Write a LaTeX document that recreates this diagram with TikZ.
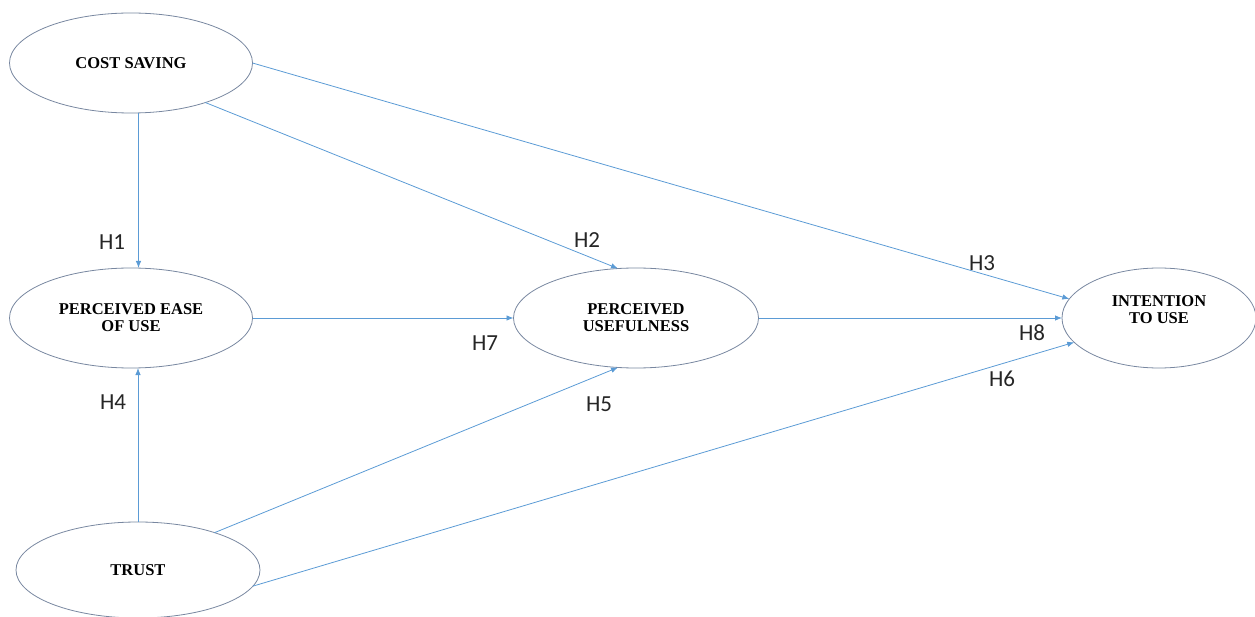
\documentclass[tikz,border=0pt]{standalone}
\usepackage{fontspec}
\setmainfont{Liberation Serif}
\newfontfamily\hypofont{Carlito}
\usetikzlibrary{shapes.geometric,arrows.meta}
\definecolor{pfeilblau}{RGB}{91,155,213}
\definecolor{randgrau}{RGB}{120,135,160}
\tikzset{
    konstrukt/.style={ellipse, draw=randgrau, line width=0.8pt, minimum width=243pt,
        minimum height=100pt, inner sep=0pt, outer sep=0pt, align=center,
        font=\fontsize{16.5}{17}\selectfont\bfseries},
    pfeil/.style={draw=pfeilblau, line width=0.8pt, -{Latex[length=7pt,width=5.5pt]}},
    hypo/.style={font=\hypofont\fontsize{23}{23}\selectfont, text=black!85}
}
\begin{document}
\begin{tikzpicture}[x=1pt,y=-1pt]
    % Bildgroesse festlegen (entspricht dem Original in Pixeln):
    \useasboundingbox (0,0) rectangle (1255,617);
    % Die fuenf Konstrukte als Ellipsen:
    \node[konstrukt] (cost) at (131,63) {COST SAVING};
    \node[konstrukt] (ease) at (131,318) {PERCEIVED EASE\\OF USE};
    \node[konstrukt, minimum height=96pt, minimum width=244pt] (trust) at (138,570) {TRUST};
    \node[konstrukt, minimum width=245pt] (useful) at (636,318) {PERCEIVED\\USEFULNESS};
    % Bei INTENTION TO USE sitzt der Text etwas hoeher, deshalb ein eigener Knoten dafuer:
    \node[konstrukt, minimum width=194pt] (intent) at (1159,318) {};
    \node[align=center, font=\fontsize{16.5}{17}\selectfont\bfseries] (intenttext)
        at ([yshift=8pt]intent.center) {INTENTION\\TO USE};
    % Die Pfeile (Hypothesen):
    \draw[pfeil] ([xshift=7.5pt]cost.south) -- ([xshift=7.5pt]ease.north);
    \draw[pfeil] (cost.-28.4) -- (useful.110);
    \draw[pfeil] (cost.east) -- (intent.168);
    \draw[pfeil] (trust.north) -- ([xshift=7pt]ease.south);
    \draw[pfeil] (trust.26) -- (useful.-110);
    \draw[pfeil] (trust.-8) -- (intent.-164);
    \draw[pfeil] (ease.east) -- (useful.west);
    \draw[pfeil] (useful.east) -- (intent.west);
    % Beschriftungen H1 bis H8:
    \node[hypo] (h1) at (112,242) {H1};
    \node[hypo] (h2) at (587,240) {H2};
    \node[hypo] (h3) at (982,263) {H3};
    \node[hypo] (h4) at (113,402) {H4};
    \node[hypo] (h5) at (599,404) {H5};
    \node[hypo] (h6) at (1002,379) {H6};
    \node[hypo] (h7) at (485,343) {H7};
    \node[hypo] (h8) at (1032,333) {H8};
\end{tikzpicture}
\end{document}
